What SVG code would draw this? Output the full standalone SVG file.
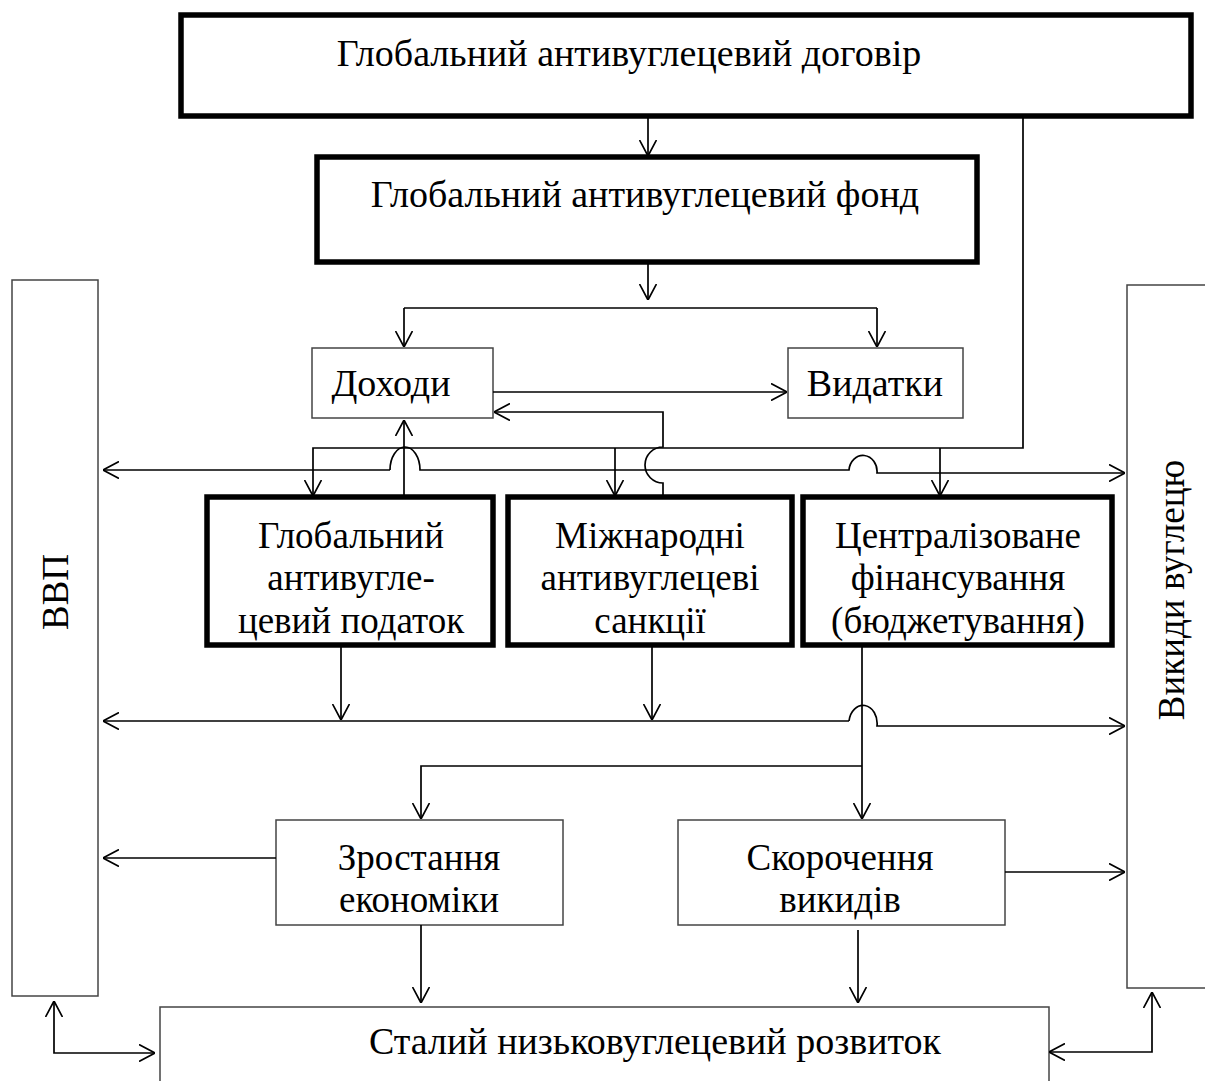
<svg xmlns="http://www.w3.org/2000/svg" width="1205" height="1081" viewBox="0 0 1205 1081">
<style>
text{font-family:"Liberation Serif","Times New Roman",serif;font-size:37px;fill:#000;text-anchor:middle}
.big{font-size:38px}
.thin{fill:#fff;stroke:#444;stroke-width:1.5}
.thick{fill:#fff;stroke:#000;stroke-width:5.5}
.c{fill:none;stroke:#000;stroke-width:1.7}
.ar{marker-end:url(#a)}
</style>
<defs>
<marker id="a" viewBox="0 0 16 18" refX="16" refY="9" markerWidth="16" markerHeight="18" orient="auto-start-reverse" markerUnits="userSpaceOnUse">
<path d="M0,0.5 L16,9 L0,17.5" fill="none" stroke="#000" stroke-width="1.7"/>
</marker>
</defs>
<rect width="1205" height="1081" fill="#fff"/>

<g id="vvp"><rect class="thin" x="12" y="280" width="86" height="716"/><text transform="translate(68,592) rotate(-90)">ВВП</text></g>
<g id="vykydy"><rect class="thin" x="1127" y="285" width="100" height="703"/><text transform="translate(1184,590) rotate(-90)">Викиди вуглецю</text></g>
<g id="dogovir"><rect class="thick" x="181" y="15" width="1010" height="101"/><text class="big" x="629" y="66">Глобальний антивуглецевий договір</text></g>
<g id="fond"><rect class="thick" x="317" y="157" width="660" height="105"/><text class="big" x="645" y="207">Глобальний антивуглецевий фонд</text></g>
<g id="dokhody"><rect class="thin" x="312" y="348" width="181" height="70"/><text class="big" x="391" y="396">Доходи</text></g>
<g id="vydatky"><rect class="thin" x="788" y="348" width="175" height="70"/><text class="big" x="875" y="396">Видатки</text></g>
<g id="podatok"><rect class="thick" x="207" y="497" width="286" height="148"/><text x="351" y="548">Глобальний</text><text x="351" y="590">антивугле-</text><text x="351" y="633">цевий податок</text></g>
<g id="sanktsii"><rect class="thick" x="508" y="497" width="284" height="148"/><text x="650" y="548">Міжнародні</text><text x="650" y="590">антивуглецеві</text><text x="650" y="633">санкції</text></g>
<g id="finansuvannia"><rect class="thick" x="803" y="497" width="309" height="148"/><text x="958" y="548">Централізоване</text><text x="958" y="590">фінансування</text><text x="958" y="633">(бюджетування)</text></g>
<g id="zrostannia"><rect class="thin" x="276" y="820" width="287" height="105"/><text x="419" y="870">Зростання</text><text x="419" y="912">економіки</text></g>
<g id="skorochennia"><rect class="thin" x="678" y="820" width="327" height="105"/><text x="840" y="870">Скорочення</text><text x="840" y="912">викидів</text></g>
<g id="rozvytok"><rect class="thin" x="160" y="1007" width="889" height="100"/><text class="big" x="655" y="1054">Сталий низьковуглецевий розвиток</text></g>

<g id="connectors">
<path class="c ar" d="M648,118 V156"/>
<path class="c ar" d="M648,262 V300"/>
<path class="c" d="M404,308 H877"/>
<path class="c ar" d="M404,308 V347"/>
<path class="c ar" d="M877,308 V347"/>
<path class="c ar" d="M493,392 H787"/>
<path class="c ar" d="M663,497 V483 A18,18 0 0 1 663,447 V412 H494"/>
<path class="c ar" d="M404,497 V420"/>
<path class="c ar" d="M1023,117 V448 H313 V496"/>
<path class="c ar" d="M615,448 V496"/>
<path class="c ar" d="M940,448 V496"/>
<path class="c ar" d="M390,470 H103"/>
<path class="c ar" d="M390,470 A15,23 0 0 1 420,470 H849 A14,16 0 0 1 877,473 H1125"/>
<path class="c ar" d="M341,646 V720"/>
<path class="c ar" d="M652,646 V720"/>
<path class="c ar" d="M849,721 H103"/>
<path class="c ar" d="M849,721 A14,18 0 0 1 877,726 H1125"/>
<path class="c ar" d="M862,646 V819"/>
<path class="c ar" d="M862,766 H421 V819"/>
<path class="c ar" d="M276,858 H103"/>
<path class="c ar" d="M1005,872 H1125"/>
<path class="c ar" d="M421,925 V1003"/>
<path class="c ar" d="M858,930 V1003"/>
<path class="c" d="M155,1053 H54 V1001" marker-start="url(#a)" marker-end="url(#a)"/>
<path class="c" d="M1049,1052 H1152 V992" marker-start="url(#a)" marker-end="url(#a)"/>
</g>
</svg>
